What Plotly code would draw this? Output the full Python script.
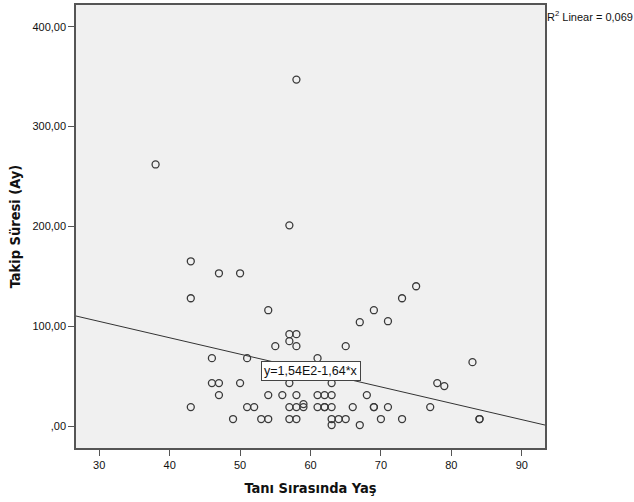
import plotly.graph_objects as go

# Age at diagnosis (years) and follow-up duration (months)
age = [38, 43, 43, 43, 46, 46, 47, 47, 47, 49, 50, 50, 51, 51, 52, 53,
       54, 54, 54, 55, 56, 57, 57, 57, 57, 57, 57, 58, 58, 58, 58, 58,
       58, 59, 59, 61, 61, 61, 62, 62, 62, 63, 63, 63, 63, 63, 64, 65,
       65, 66, 67, 67, 68, 69, 69, 69, 70, 71, 71, 73, 73, 75, 77, 78,
       79, 83, 84, 84]
followup = [262, 165, 128, 19, 68, 43, 153, 43, 31, 7, 153, 43, 68, 19, 19, 7,
            116, 31, 7, 80, 31, 201, 92, 85, 43, 19, 7, 347, 92, 80, 31, 19,
            7, 19, 22, 68, 31, 19, 31, 19, 19, 43, 31, 19, 7, 1, 7, 80,
            7, 19, 104, 1, 31, 116, 19, 19, 7, 105, 19, 128, 7, 140, 19, 43,
            40, 64, 7, 7]

# Linear fit reported on the chart
intercept = 154.0
slope = -1.64
r_squared = "0,069"

x_range = [26.7, 93.3]
y_range = [-22, 421.7]

y_tickvals = [0, 100, 200, 300, 400]
y_ticktext = [",00", "100,00", "200,00", "300,00", "400,00"]
x_tickvals = [30, 40, 50, 60, 70, 80, 90]

fit_x = x_range
fit_y = [intercept + slope * v for v in fit_x]

fig = go.Figure()

fig.add_trace(go.Scatter(
    x=fit_x, y=fit_y, mode="lines",
    line=dict(color="#333333", width=1),
    hoverinfo="skip", showlegend=False,
))

fig.add_trace(go.Scatter(
    x=age, y=followup, mode="markers",
    marker=dict(symbol="circle-open", size=7, color="#3a3a3a",
                line=dict(width=1.3, color="#3a3a3a")),
    showlegend=False,
))

label_x = 60
fig.add_annotation(
    x=label_x, y=intercept + slope * label_x, xref="x", yref="y",
    text="y=1,54E2-1,64*x", showarrow=False,
    font=dict(family="Liberation Sans, Arial", size=12.5, color="#111111"),
    bgcolor="white", bordercolor="#444444", borderwidth=1, borderpad=2,
)

fig.add_annotation(
    x=1, y=0.975, xref="paper", yref="paper", xanchor="left", yanchor="middle",
    text="R<sup>2</sup> Linear = " + r_squared, showarrow=False,
    font=dict(family="Liberation Sans, Arial", size=11, color="#111111"),
)

axis_common = dict(
    showgrid=False, zeroline=False, showline=True, mirror=True,
    linecolor="#555555", linewidth=1.5, ticks="outside", ticklen=6,
    tickcolor="#555555", tickwidth=1,
    tickfont=dict(family="Liberation Sans, Arial", size=11, color="#111111"),
)

title_font = dict(family="DejaVu Sans Condensed", size=14.5, color="#111111")

fig.update_layout(
    width=634, height=502,
    margin=dict(l=76, r=89, t=3, b=54),
    paper_bgcolor="white", plot_bgcolor="#f0f0f0",
    xaxis=dict(range=x_range, tickvals=x_tickvals,
               title=dict(text="<b>Tanı Sırasında Yaş</b>", standoff=13,
                          font=title_font),
               **axis_common),
    yaxis=dict(range=y_range, tickvals=y_tickvals, ticktext=y_ticktext,
               title=dict(text="<b>Takip Süresi (Ay)</b>", standoff=8,
                          font=title_font),
               **axis_common),
)

fig.write_html("out.html")
